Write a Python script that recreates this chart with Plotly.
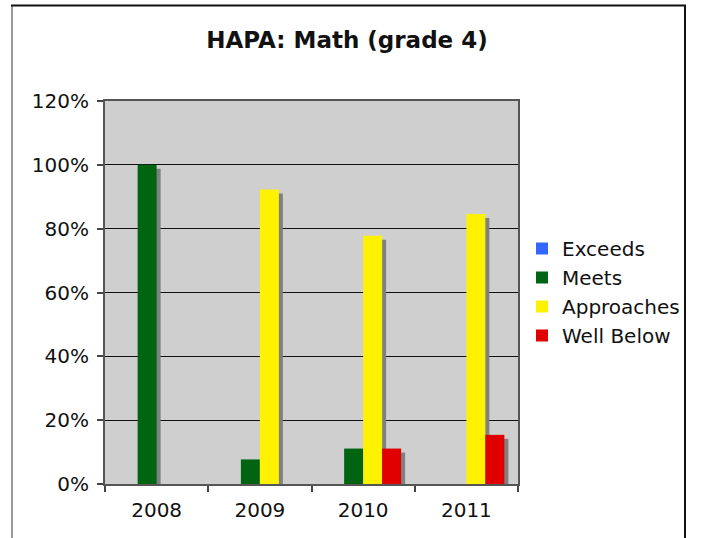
import plotly.graph_objects as go

years = ["2008", "2009", "2010", "2011"]
series_names = ["Exceeds", "Meets", "Approaches", "Well Below"]
exceeds = [0, 0, 0, 0]
meets = [1.0, 0.077, 0.111, 0]
approaches = [0, 0.923, 0.778, 0.846]
well_below = [0, 0, 0.111, 0.154]
colors = ["#3366FF", "#006411", "#FFF200", "#E00000"]
y_ticks = [0, 0.2, 0.4, 0.6, 0.8, 1.0, 1.2]

all_series = [exceeds, meets, approaches, well_below]

W, H = 701, 538
# plot area in screen pixels
L, R, T, B = 105, 518, 101, 484
bar_w = 0.184
offsets = [-0.368, -0.184, 0.0, 0.184]
cat_px = (R - L) / len(years)
px_per_unit = (B - T) / 1.2
sx = 4 / cat_px
sy = 4 / px_per_unit

def px_x(p):
    return (p - L) / (R - L)

def px_y(p):
    return (B - p) / (B - T)

fig = go.Figure()
# shadows
for vals, off in zip(all_series, offsets):
    fig.add_trace(go.Bar(
        x=years, y=[(v - sy) if v > 0 else None for v in vals],
        offset=off + sx, width=bar_w, marker_color="#808080",
        marker_line_width=0, showlegend=False, hoverinfo="skip"))
for name, vals, off, c in zip(series_names, all_series, offsets, colors):
    fig.add_trace(go.Bar(
        x=years, y=[v if v > 0 else None for v in vals], name=name,
        offset=off, width=bar_w, marker_color=c, marker_line_width=0))

font = dict(family="DejaVu Sans, Verdana, sans-serif", size=20, color="#111")

fig.update_layout(
    width=W, height=H,
    margin=dict(l=L, r=W - R, t=T, b=H - B, pad=0, autoexpand=False),
    barmode="overlay",
    paper_bgcolor="white", plot_bgcolor="#CFCFCF",
    font=font,
    title=dict(text="<b>HAPA: Math (grade 4)</b>", x=347 / W, xanchor="center",
               y=1 - 40 / H, yanchor="middle",
               font=dict(family="DejaVu Sans, Verdana, sans-serif", size=23, color="#111")),
    legend=dict(x=px_x(522), xanchor="left", y=px_y(229),
                yanchor="top", font=font, bgcolor="rgba(0,0,0,0)",
                traceorder="normal", itemwidth=30, tracegroupgap=0),
    xaxis=dict(type="category", tickson="boundaries", ticks="outside", ticklen=6,
               tickcolor="#444", tickwidth=2, showline=True, linecolor="#555",
               linewidth=2, mirror=True, showgrid=False, tickfont=font,
               ticklabelstandoff=7, range=[-0.5, 3.5]),
    yaxis=dict(range=[0, 1.2], tickvals=y_ticks, tickformat=".0%", ticks="outside",
               ticklen=6, tickcolor="#444", tickwidth=2, showline=True,
               linecolor="#555", linewidth=2, mirror=True, showgrid=True,
               gridcolor="#111", gridwidth=1, zeroline=False, tickfont=font,
               ticklabelstandoff=4),
    showlegend=True,
)

# outer chart border
fig.add_shape(type="line", xref="paper", yref="paper",
              x0=px_x(12), x1=px_x(12), y0=px_y(5), y1=px_y(560),
              line=dict(color="#777", width=1.5))
fig.add_shape(type="line", xref="paper", yref="paper",
              x0=px_x(11), x1=px_x(686), y0=px_y(5.5), y1=px_y(5.5),
              line=dict(color="#111", width=2))
fig.add_shape(type="line", xref="paper", yref="paper",
              x0=px_x(685), x1=px_x(685), y0=px_y(5), y1=px_y(560),
              line=dict(color="#111", width=2))

fig.write_html("out.html", config={"displayModeBar": False},
               post_script="document.body.style.margin='0';document.body.style.overflow='hidden';")
